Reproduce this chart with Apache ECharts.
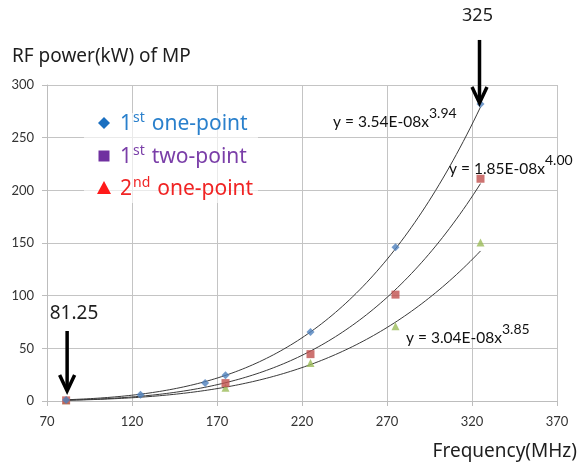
<!DOCTYPE html>
<html>
<head>
<meta charset="utf-8">
<script src="https://cdn.jsdelivr.net/npm/echarts@6/dist/echarts.min.js"></script>
<style>
  html, body { margin: 0; padding: 0; background: #ffffff; }
  #chart { width: 583px; height: 468px; }
</style>
</head>
<body>
<div id="chart"></div>
<script>
// Measured RF power (kW) of the MP versus frequency (MHz)
const onePoint1Freq = [81.25, 125, 163, 175, 225, 275, 325];
const onePoint1Power = [1, 6, 17, 24.5, 65.5, 146, 282];
const twoPoint1Freq = [81.25, 175, 225, 275, 325];
const twoPoint1Power = [0.6, 17, 44.5, 101, 211];
const onePoint2Freq = [81.25, 175, 225, 275, 325];
const onePoint2Power = [0.7, 12.5, 36, 71, 150.5];

// Power-law fits y = a * x^b, one per series
const fitCoef = [3.54e-8, 1.85e-8, 3.04e-8];
const fitExp = [3.94, 4.00, 3.85];
const fitLabels = ['3.54E-08', '1.85E-08', '3.04E-08'];
const fitExpLabels = ['3.94', '4.00', '3.85'];
const fitStart = 81.25;
const fitEnd = 325;

// Axis ticks
const xTicks = [70, 120, 170, 220, 270, 320, 370];
const yTicks = [0, 50, 100, 150, 200, 250, 300];

// Highlighted frequencies
const markedFreq = ['81.25', '325'];

// Legend entries: ordinal number, ordinal suffix, remainder
const legendNum = ['1', '1', '2'];
const legendSuffix = ['st', 'st', 'nd'];
const legendRest = ['one-point', 'two-point', 'one-point'];

function pairs(xs, ys) {
  return xs.map((x, i) => [x, ys[i]]);
}

function fitCurve(k) {
  const pts = [];
  const steps = 120;
  for (let i = 0; i <= steps; i++) {
    const x = fitStart + (fitEnd - fitStart) * i / steps;
    pts.push([x, fitCoef[k] * Math.pow(x, fitExp[k])]);
  }
  return pts;
}

const chart = echarts.init(document.getElementById('chart'), null, { renderer: 'canvas' });

const gridColor = '#c4c4c4';
const tickFont = 'Lato, "Liberation Sans", sans-serif';
const textFontName = '"Noto Sans"';
const textFont = '"Noto Sans", "Open Sans", sans-serif';

const fitSeries = [0, 1, 2].map(k => ({
  name: 'fit' + k,
  type: 'line',
  data: fitCurve(k),
  showSymbol: false,
  symbol: 'none',
  silent: true,
  z: 2,
  lineStyle: { color: '#3a3a3a', width: 1 }
}));

chart.setOption({
  animation: false,
  backgroundColor: '#ffffff',
  grid: { left: 47, right: 26, top: 85, bottom: 67, outerBoundsMode: 'none' },
  xAxis: {
    type: 'value',
    min: xTicks[0],
    max: xTicks[xTicks.length - 1],
    interval: xTicks[1] - xTicks[0],
    axisLine: { show: true, lineStyle: { color: '#bdbdbd', width: 1 } },
    axisTick: { show: true, length: 5, lineStyle: { color: '#bdbdbd' } },
    splitLine: { show: true, lineStyle: { color: gridColor, width: 1 } },
    axisLabel: { color: '#333333', fontSize: 13, fontFamily: tickFont, margin: 14 }
  },
  yAxis: {
    type: 'value',
    min: yTicks[0],
    max: yTicks[yTicks.length - 1],
    interval: yTicks[1] - yTicks[0],
    axisLine: { show: true, lineStyle: { color: '#bdbdbd', width: 1 } },
    axisTick: { show: true, length: 5, lineStyle: { color: '#bdbdbd' } },
    splitLine: { show: true, lineStyle: { color: gridColor, width: 1 } },
    axisLabel: { color: '#333333', fontSize: 13, fontFamily: tickFont, margin: 13 }
  },
  series: fitSeries.concat([
    {
      name: legendNum[2] + legendSuffix[2] + ' ' + legendRest[2],
      type: 'scatter',
      data: pairs(onePoint2Freq, onePoint2Power),
      symbol: 'triangle',
      symbolSize: 8,
      z: 3,
      itemStyle: { color: '#9bbb59' }
    },
    {
      name: legendNum[1] + legendSuffix[1] + ' ' + legendRest[1],
      type: 'scatter',
      data: pairs(twoPoint1Freq, twoPoint1Power),
      symbol: 'rect',
      symbolSize: 8,
      z: 4,
      itemStyle: { color: '#c0504d' }
    },
    {
      name: legendNum[0] + legendSuffix[0] + ' ' + legendRest[0],
      type: 'scatter',
      data: pairs(onePoint1Freq, onePoint1Power),
      symbol: 'diamond',
      symbolSize: 8,
      z: 5,
      itemStyle: { color: '#4f81bd' }
    }
  ])
});

// Annotations: fit equations, legend box, axis captions and arrows
function px(x, y) {
  return chart.convertToPixel({ gridIndex: 0 }, [x, y]);
}

const measureCtx = document.createElement('canvas').getContext('2d');
function textWidth(str, size) {
  measureCtx.font = size + 'px ' + textFontName;
  return measureCtx.measureText(str).width;
}

function equation(k, left, top) {
  return {
    type: 'text',
    x: left,
    y: top,
    z: 20,
    style: {
      text: '{b|y = ' + fitLabels[k] + 'x}{s|' + fitExpLabels[k] + '}',
      rich: {
        b: { fontSize: 15.5, fontFamily: tickFont, fill: '#111', verticalAlign: 'bottom', lineHeight: 24 },
        s: { fontSize: 14, fontFamily: tickFont, fill: '#111', verticalAlign: 'top', lineHeight: 24 }
      }
    }
  };
}

const legendFont = 21;
const legendSupFont = 14;
const legendTextColors = ['#2a80cc', '#7a3ea8', '#f02424'];
const legendMarkColors = ['#1a6fc0', '#7030a0', '#ff1a1a'];
const legendRowY = [123, 156, 188];

function legendRow(k) {
  const y = legendRowY[k];
  const x0 = 120;
  const wNum = textWidth(legendNum[k], legendFont);
  const wSup = textWidth(legendSuffix[k], legendSupFont);
  const color = legendMarkColors[k];
  let symEl;
  if (k === 0) {
    symEl = { type: 'polygon', z: 12, shape: { points: [[104, y - 6], [110, y], [104, y + 6], [98, y]] }, style: { fill: color } };
  } else if (k === 1) {
    symEl = { type: 'rect', z: 12, shape: { x: 98.5, y: y - 5.5, width: 11, height: 11 }, style: { fill: color } };
  } else {
    symEl = { type: 'polygon', z: 12, shape: { points: [[104, y - 7], [111, y + 6], [97, y + 6]] }, style: { fill: color } };
  }
  const common = { fontFamily: textFont, fill: legendTextColors[k], verticalAlign: 'middle' };
  return [
    symEl,
    { type: 'text', z: 12, x: x0, y: y + 1, style: Object.assign({ text: legendNum[k], fontSize: legendFont }, common) },
    { type: 'text', z: 12, x: x0 + wNum + 1, y: y - 5, style: Object.assign({ text: legendSuffix[k], fontSize: legendSupFont }, common) },
    { type: 'text', z: 12, x: x0 + wNum + wSup + 8, y: y + 1, style: Object.assign({ text: legendRest[k], fontSize: legendFont }, common) }
  ];
}

function arrow(tipX, tipY, length) {
  return [
    { type: 'line', z: 30, shape: { x1: tipX, y1: tipY - length, x2: tipX, y2: tipY - 2 }, style: { stroke: '#000', lineWidth: 3.5 } },
    { type: 'polyline', z: 30, shape: { points: [[tipX - 7.5, tipY - 16], [tipX, tipY], [tipX + 7.5, tipY - 16]] }, style: { stroke: '#000', lineWidth: 3.5, fill: null, lineJoin: 'miter' } }
  ];
}

const pHigh = px(325, 282);
const pLow = px(81.25, 0);

const annotations = [
  { type: 'rect', z: 10, shape: { x: 84, y: 113, width: 174, height: 90 }, style: { fill: 'rgba(255,255,255,0.65)' } }
]
  .concat(legendRow(0))
  .concat(legendRow(1))
  .concat(legendRow(2))
  .concat([
    equation(0, 333, 106),
    equation(1, 449, 153),
    equation(2, 406, 322),
    { type: 'text', z: 20, x: 12, y: 47, style: { text: 'RF power(kW) of MP', fontSize: 19, fontFamily: textFont, fill: '#1e1e1e' } },
    { type: 'text', z: 20, x: pHigh[0] - 3, y: 7, style: { text: markedFreq[1], fontSize: 18, fontFamily: textFont, fill: '#1e1e1e', align: 'center' } },
    { type: 'text', z: 20, x: 74, y: 304, style: { text: markedFreq[0], fontSize: 19, fontFamily: textFont, fill: '#1e1e1e', align: 'center' } },
    { type: 'text', z: 20, x: 577, y: 442, style: { text: 'Frequency(MHz)', fontSize: 19, fontFamily: textFont, fill: '#1e1e1e', align: 'right' } }
  ])
  .concat(arrow(pHigh[0] - 1, pHigh[1] - 1, 63))
  .concat(arrow(pLow[0] + 1, pLow[1] - 10, 60));

chart.setOption({ graphic: annotations });
</script>
</body>
</html>
